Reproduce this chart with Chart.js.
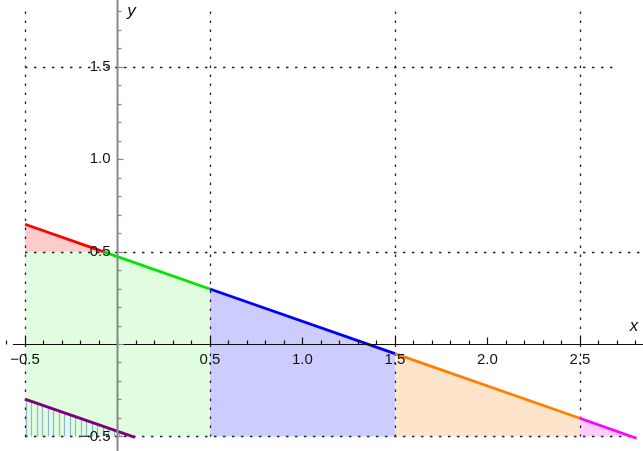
<!DOCTYPE html>
<html>
<head>
<meta charset="utf-8">
<script src="https://cdn.jsdelivr.net/npm/chart.js@4"></script>
<style>
  body { margin: 0; background: #fff; }
  #wrap { width: 643px; height: 451px; }
</style>
</head>
<body>
<div id="wrap"><canvas id="plot" width="643" height="451"></canvas></div>
<script>
// Break points of the line y = f(x)
const segX = [-0.5, -0.077, 0.5, 1.5, 2.5, 2.806];
const segY = [0.648, 0.5, 0.298, -0.052, -0.402, -0.51];
const segColors = ['#ff0000', '#00e600', '#0000ff', '#ff8000', '#ff00ff'];
const segFills = ['#ffcccc', '#e0fde0', '#ccccff', '#ffe4cc', '#ffccff'];

// the shifted (purple) line in the lower left
const lowX = [-0.5, 0.095];
const lowY = [-0.298, -0.505];

const capLevel = 0.5;
const baseLevel = -0.5;

// tick labels and dotted reference lines
const xTicks = [-0.5, 0.5, 1.0, 1.5, 2.0, 2.5];
const yTicks = [-0.5, 0.5, 1.0, 1.5];
const gridX = [-0.5, 0.5, 1.5, 2.5];
const gridY = [1.5, 0.5, -0.5];
const gridYEnd = [2.69, 2.85, 2.8];

function pts(xs, ys) {
    return xs.map((x, i) => ({ x: x, y: ys[i] }));
}

function fmt(v) {
    return (v < 0 ? '\u2212' : '') + Math.abs(v).toFixed(1);
}

const datasets = [];
// red part: filled down to the 0.5 level
datasets.push({
    data: pts(segX.slice(0, 2), segY.slice(0, 2)),
    borderColor: segColors[0], backgroundColor: segFills[0],
    fill: { value: capLevel }
});
// green fill (capped at 0.5) and green line
datasets.push({
    data: [{ x: segX[0], y: capLevel }, { x: segX[1], y: capLevel }, { x: segX[2], y: segY[2] }],
    borderWidth: 0, borderColor: 'rgba(0,0,0,0)', backgroundColor: segFills[1],
    fill: { value: baseLevel }
});
datasets.push({
    data: pts(segX.slice(1, 3), segY.slice(1, 3)),
    borderColor: segColors[1], fill: false
});
// blue, orange, magenta parts
for (let i = 2; i < 5; i++) {
    datasets.push({
        data: pts(segX.slice(i, i + 2), segY.slice(i, i + 2)),
        borderColor: segColors[i], backgroundColor: segFills[i],
        fill: { value: baseLevel }
    });
}
datasets.push({
    data: pts(lowX, lowY),
    borderColor: '#800080', fill: false, borderWidth: 3
});

// hatch + dotted grid (under the lines), axes (over them)
const decor = {
    id: 'decor',
    beforeDatasetsDraw(chart) {
        const c = chart.ctx, xs = chart.scales.x, ys = chart.scales.y;
        c.save();
        // vertical hatch under the purple line
        c.strokeStyle = '#8fb4d4';
        c.lineWidth = 1.2;
        const slope = (lowY[1] - lowY[0]) / (lowX[1] - lowX[0]);
        for (let x = lowX[0] + 0.004; x < lowX[1]; x += 0.0297) {
            const top = lowY[0] + slope * (x - lowX[0]);
            if (top <= baseLevel) break;
            const px = Math.round(xs.getPixelForValue(x)) + 0.5;
            c.beginPath();
            c.moveTo(px, ys.getPixelForValue(top));
            c.lineTo(px, ys.getPixelForValue(baseLevel));
            c.stroke();
        }
        // dotted lines
        c.strokeStyle = '#222';
        c.lineWidth = 1.3;
        c.setLineDash([2.5, 6.5]);
        gridX.forEach(g => {
            const px = Math.round(xs.getPixelForValue(g)) + 0.5;
            c.beginPath();
            c.moveTo(px, ys.getPixelForValue(1.8));
            c.lineTo(px, ys.getPixelForValue(baseLevel));
            c.stroke();
        });
        gridY.forEach((g, i) => {
            const py = Math.round(ys.getPixelForValue(g)) + 0.5;
            c.beginPath();
            c.moveTo(xs.getPixelForValue(-0.5), py);
            c.lineTo(xs.getPixelForValue(gridYEnd[i]), py);
            c.stroke();
        });
        c.restore();
    },
    afterDatasetsDraw(chart) {
        const c = chart.ctx, xs = chart.scales.x, ys = chart.scales.y;
        const x0 = Math.round(xs.getPixelForValue(0)) + 0.5;
        const y0 = Math.round(ys.getPixelForValue(0)) + 0.5;
        c.save();
        // x axis
        c.strokeStyle = '#111';
        c.lineWidth = 1.2;
        c.beginPath();
        c.moveTo(xs.getPixelForValue(-0.565), y0);
        c.lineTo(chart.width, y0);
        c.stroke();
        for (let k = -6; k <= 28; k++) {
            const px = Math.round(xs.getPixelForValue(k / 10)) + 0.5;
            const len = (k % 5 === 0) ? 7 : 4;
            c.beginPath();
            c.moveTo(px, y0);
            c.lineTo(px, y0 - len);
            c.stroke();
        }
        // y axis
        c.strokeStyle = '#888';
        c.lineWidth = 2;
        c.beginPath();
        c.moveTo(x0, 0);
        c.lineTo(x0, chart.height);
        c.stroke();
        c.lineWidth = 1.2;
        for (let k = -5; k <= 18; k++) {
            const py = Math.round(ys.getPixelForValue(k / 10)) + 0.5;
            const len = (k % 5 === 0) ? 6 : 4;
            c.beginPath();
            c.moveTo(x0, py);
            c.lineTo(x0 + len, py);
            c.stroke();
        }
        // tick labels
        c.fillStyle = '#111';
        c.font = '15px "Liberation Sans", Arial, sans-serif';
        c.textAlign = 'center';
        c.textBaseline = 'middle';
        xTicks.forEach(v => c.fillText(fmt(v), xs.getPixelForValue(v), y0 + 15));
        c.textAlign = 'right';
        yTicks.forEach(v => c.fillText(fmt(v), x0 - 7, ys.getPixelForValue(v)));
        // axis names
        c.font = 'italic 17px "Liberation Sans", Arial, sans-serif';
        c.textAlign = 'center';
        c.fillText('x', 634, y0 - 18);
        c.fillText('y', x0 + 14, 11);
        c.restore();
    }
};

new Chart(document.getElementById('plot'), {
    type: 'line',
    data: { datasets: datasets },
    options: {
        responsive: false,
        animation: false,
        devicePixelRatio: 1,
        layout: { padding: 0 },
        elements: {
            line: { borderWidth: 2.8, tension: 0 },
            point: { radius: 0 }
        },
        plugins: {
            legend: { display: false },
            tooltip: { enabled: false },
            filler: { drawTime: 'beforeDatasetsDraw' }
        },
        scales: {
            x: { type: 'linear', min: -0.635, max: 2.841, display: false },
            y: { type: 'linear', min: -0.579, max: 1.862, display: false }
        }
    },
    plugins: [decor]
});
</script>
</body>
</html>
